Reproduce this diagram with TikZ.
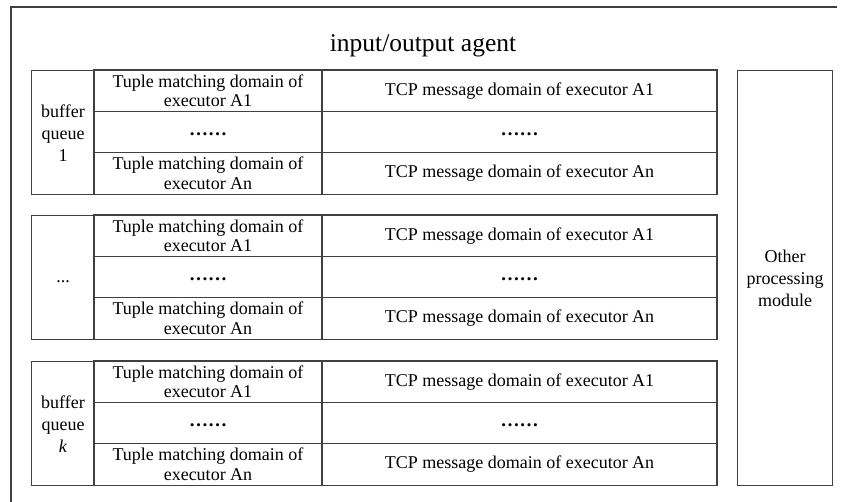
\documentclass[tikz,border=0pt]{standalone}
\usepackage{fontspec}
\setmainfont{Liberation Serif}
\definecolor{edge}{HTML}{404040}
\begin{document}
\begin{tikzpicture}[x=1pt,y=-1pt,
  frame/.style={draw=edge, line width=1.1pt},
  cell/.style={frame, inner sep=0pt, align=center, text=black,
    font=\fontsize{18}{19.8}\selectfont},
  side/.style={cell, font=\fontsize{18}{22}\selectfont},
  dotrow/.style={font=\fontsize{19}{20}\bfseries, inner sep=0pt}]
\fill[white] (0,0) rectangle (841,502);
\useasboundingbox (0,0) rectangle (841,502);

% outer agent frame (open towards the right and bottom)
\draw[frame] (11,502) -- (11,7) -- (837,7);
\node[font=\fontsize{25.5}{28}\selectfont] (title) at (423,46) {input/output agent};

% three buffer queues, each with three executor rows
\foreach \t/\lab [count=\b] in {70/{buffer\\queue\\1}, 215/{\strut...}, 361/{buffer\\queue\\\textit{k}}} {
  \node[side, anchor=north west, minimum width=63pt, minimum height=124.3pt] (q\b) at (31,\t) {\lab};
  \foreach \ta/\tb [count=\r from 0] in {
      {Tuple matching domain of\\executor A1}/{TCP message domain of executor A1},
      {}/{},
      {Tuple matching domain of\\executor An}/{TCP message domain of executor An}} {
    \node[cell, minimum width=228pt, minimum height=41.43pt] (m\b\r) at (208,\t+20.72+41.43*\r) {\ta};
    \node[cell, minimum width=395pt, minimum height=41.43pt] (c\b\r) at (519.5,\t+20.72+41.43*\r) {\tb};
  }
  % elided executors in the middle row
  \node[dotrow] (dm\b) at ([yshift=-2.5pt]m\b1.center) {……};
  \node[dotrow] (dc\b) at ([yshift=-2.5pt]c\b1.center) {……};
}

% side module
\node[side, anchor=north west, minimum width=95pt, minimum height=415pt] (other) at (737,70) {Other\\processing\\module};
\end{tikzpicture}
\end{document}
